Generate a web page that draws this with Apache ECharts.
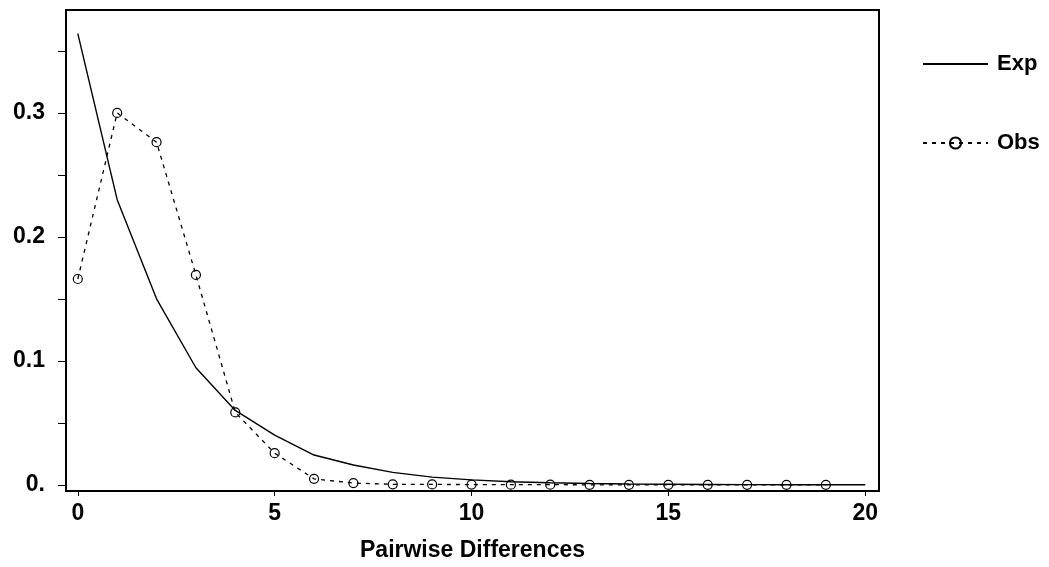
<!DOCTYPE html>
<html>
<head>
<meta charset="utf-8">
<script src="https://cdn.jsdelivr.net/npm/echarts@6/dist/echarts.min.js"></script>
<style>
  html, body { margin: 0; padding: 0; background: #fff; }
  #chart { width: 1049px; height: 567px; }
</style>
</head>
<body>
<div id="chart"></div>
<script>
// Mismatch distribution: expected vs observed frequency of pairwise differences
const differences = [0, 1, 2, 3, 4, 5, 6, 7, 8, 9, 10, 11, 12, 13, 14, 15, 16, 17, 18, 19, 20];
const expFreq = [0.364, 0.230, 0.150, 0.0944, 0.060, 0.040, 0.024, 0.016, 0.010, 0.0062,
                 0.0040, 0.0025, 0.0016, 0.0010, 0.0006, 0.0004, 0.00025, 0.00015, 0.0001, 0.00006, 0.00004];
const obsFreq = [0.166, 0.300, 0.2764, 0.1693, 0.0584, 0.0255, 0.0048, 0.0014, 0.0004, 0.0003,
                 0.0002, 0.0001, 0.0001, 0, 0, 0, 0, 0, 0, 0];
const xTicks = [0, 5, 10, 15, 20];
const yTicks = [0, 0.05, 0.1, 0.15, 0.2, 0.25, 0.3, 0.35];
const yLabels = [0, 0.1, 0.2, 0.3];

const FONT = 'Liberation Sans';
const axisText = { fontFamily: FONT, fontWeight: 'bold', fontSize: 23, color: '#000' };

const pairs = (xs, ys) => ys.map((y, i) => [xs[i], y]);

const chart = echarts.init(document.getElementById('chart'), null, { renderer: 'canvas' });
chart.setOption({
  animation: false,
  backgroundColor: '#fff',
  grid: {
    left: 66, top: 10, right: 170, bottom: 74,
    show: true, borderColor: '#000', borderWidth: 2, backgroundColor: 'transparent'
  },
  legend: {
    orient: 'vertical',
    left: 917, top: 48,
    itemWidth: 65, itemHeight: 14, itemGap: 57,
    textStyle: { fontFamily: FONT, fontWeight: 'bold', fontSize: 22, color: '#000', padding: [0, 0, 0, 4] },
    data: [
      { name: 'Exp', itemStyle: { color: 'rgba(0,0,0,0)', borderWidth: 0 } },
      { name: 'Obs' }
    ]
  },
  xAxis: {
    type: 'value',
    min: -0.3, max: 20.35,
    name: 'Pairwise Differences',
    nameLocation: 'middle', nameGap: 48,
    nameTextStyle: axisText,
    axisLine: { show: true, onZero: false, lineStyle: { color: '#000', width: 2 } },
    axisTick: { show: true, inside: false, length: 5, customValues: xTicks, lineStyle: { color: '#000', width: 1 } },
    axisLabel: { show: true, margin: 11, customValues: xTicks, ...axisText },
    splitLine: { show: false }
  },
  yAxis: {
    type: 'value',
    min: -0.005, max: 0.383,
    axisLine: { show: true, onZero: false, lineStyle: { color: '#000', width: 2 } },
    axisTick: { show: true, inside: false, length: 8, customValues: yTicks, lineStyle: { color: '#000', width: 1 } },
    axisLabel: {
      show: true, margin: 21, customValues: yLabels, ...axisText,
      formatter: v => (v === 0 ? '0.' : v.toFixed(1))
    },
    splitLine: { show: false }
  },
  series: [
    {
      name: 'Exp',
      type: 'line',
      data: pairs(differences, expFreq),
      symbol: 'none',
      lineStyle: { color: '#000', width: 1.4, type: 'solid' },
      itemStyle: { color: '#000' },
      z: 2
    },
    {
      name: 'Obs',
      type: 'line',
      data: pairs(differences, obsFreq),
      symbol: 'circle',
      symbolSize: 9,
      showAllSymbol: true,
      lineStyle: { color: '#000', width: 1.3, type: [4, 5] },
      itemStyle: { color: 'rgba(0,0,0,0)', borderColor: '#000', borderWidth: 1.2 },
      z: 3
    }
  ]
});
</script>
</body>
</html>
